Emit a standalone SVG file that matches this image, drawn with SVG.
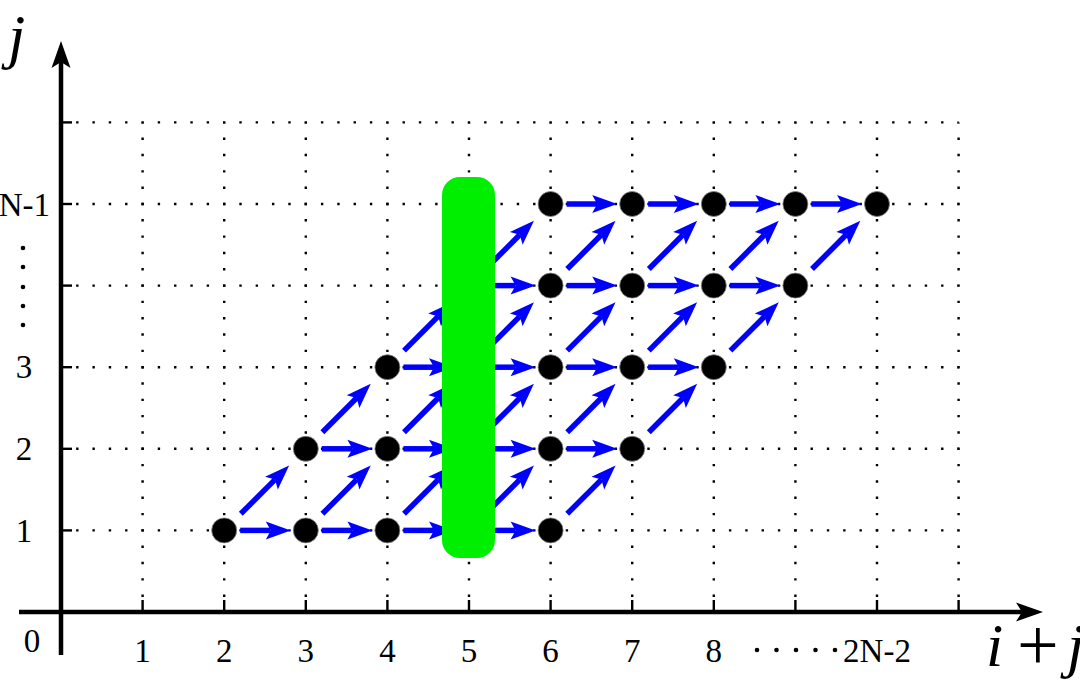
<svg xmlns="http://www.w3.org/2000/svg" width="1080" height="689" viewBox="0 0 1080 689">
<style>
.grid{stroke:#000;stroke-width:2.4;stroke-dasharray:2.4 13.92;stroke-dashoffset:1.2;fill:none}
.axis{stroke:#000;stroke-width:4.5;fill:none}
.tick{stroke:#000;stroke-width:2.4}
.arr{stroke:#0000ff;stroke-width:5.5;marker-end:url(#ah)}
.node{fill:#000;stroke:#888;stroke-width:0.8}
.lbl{font-family:"Liberation Serif","DejaVu Serif",serif;font-size:33px;fill:#000}
.var{font-family:"Liberation Serif","DejaVu Serif",serif;font-style:italic;font-size:62px;fill:#000}
.op{font-family:"Liberation Serif","DejaVu Serif",serif;font-size:74px;fill:#000}
</style>
<defs>
<marker id="ah" markerUnits="userSpaceOnUse" markerWidth="30" markerHeight="22" viewBox="-6 -11 30 22" refX="0" refY="0" orient="auto" overflow="visible">
<path d="M-5,-9 L20,0 L-5,9 L0,0 Z" fill="#0000ff"/>
</marker>
</defs>
<g id="grid">
<line class="grid" x1="61" y1="530.4" x2="958.6" y2="530.4"/>
<line class="grid" x1="61" y1="448.8" x2="958.6" y2="448.8"/>
<line class="grid" x1="61" y1="367.2" x2="958.6" y2="367.2"/>
<line class="grid" x1="61" y1="285.6" x2="958.6" y2="285.6"/>
<line class="grid" x1="61" y1="204" x2="958.6" y2="204"/>
<line class="grid" x1="61" y1="122.4" x2="958.6" y2="122.4"/>
<line class="grid" x1="142.6" y1="612" x2="142.6" y2="122.4"/>
<line class="grid" x1="224.2" y1="612" x2="224.2" y2="122.4"/>
<line class="grid" x1="305.8" y1="612" x2="305.8" y2="122.4"/>
<line class="grid" x1="387.4" y1="612" x2="387.4" y2="122.4"/>
<line class="grid" x1="469" y1="612" x2="469" y2="122.4"/>
<line class="grid" x1="550.6" y1="612" x2="550.6" y2="122.4"/>
<line class="grid" x1="632.2" y1="612" x2="632.2" y2="122.4"/>
<line class="grid" x1="713.8" y1="612" x2="713.8" y2="122.4"/>
<line class="grid" x1="795.4" y1="612" x2="795.4" y2="122.4"/>
<line class="grid" x1="877" y1="612" x2="877" y2="122.4"/>
<line class="grid" x1="958.6" y1="612" x2="958.6" y2="122.4"/>
</g>
<g id="ticks">
<line class="tick" x1="61" y1="530.4" x2="72" y2="530.4"/>
<line class="tick" x1="61" y1="448.8" x2="72" y2="448.8"/>
<line class="tick" x1="61" y1="367.2" x2="72" y2="367.2"/>
<line class="tick" x1="61" y1="285.6" x2="72" y2="285.6"/>
<line class="tick" x1="61" y1="204" x2="72" y2="204"/>
<line class="tick" x1="61" y1="122.4" x2="72" y2="122.4"/>
<line class="tick" x1="142.6" y1="612" x2="142.6" y2="600"/>
<line class="tick" x1="224.2" y1="612" x2="224.2" y2="600"/>
<line class="tick" x1="305.8" y1="612" x2="305.8" y2="600"/>
<line class="tick" x1="387.4" y1="612" x2="387.4" y2="600"/>
<line class="tick" x1="469" y1="612" x2="469" y2="600"/>
<line class="tick" x1="550.6" y1="612" x2="550.6" y2="600"/>
<line class="tick" x1="632.2" y1="612" x2="632.2" y2="600"/>
<line class="tick" x1="713.8" y1="612" x2="713.8" y2="600"/>
<line class="tick" x1="795.4" y1="612" x2="795.4" y2="600"/>
<line class="tick" x1="877" y1="612" x2="877" y2="600"/>
<line class="tick" x1="958.6" y1="612" x2="958.6" y2="600"/>
</g>
<g id="axes">
<line class="axis" x1="61" y1="655" x2="61" y2="62"/>
<polygon points="61,41 51.5,68 61,62 70.5,68" fill="#000"/>
<line class="axis" x1="19" y1="612" x2="1022" y2="612"/>
<polygon points="1043,612 1016,602.5 1022,612 1016,621.5" fill="#000"/>
</g>
<g id="connectors">
<line class="arr" x1="240.2" y1="530.4" x2="270.8" y2="530.4"/>
<line class="arr" x1="321.8" y1="530.4" x2="352.4" y2="530.4"/>
<line class="arr" x1="403.4" y1="530.4" x2="434" y2="530.4"/>
<line class="arr" x1="485" y1="530.4" x2="515.6" y2="530.4"/>
<line class="arr" x1="321.8" y1="448.8" x2="352.4" y2="448.8"/>
<line class="arr" x1="403.4" y1="448.8" x2="434" y2="448.8"/>
<line class="arr" x1="485" y1="448.8" x2="515.6" y2="448.8"/>
<line class="arr" x1="566.6" y1="448.8" x2="597.2" y2="448.8"/>
<line class="arr" x1="403.4" y1="367.2" x2="434" y2="367.2"/>
<line class="arr" x1="485" y1="367.2" x2="515.6" y2="367.2"/>
<line class="arr" x1="566.6" y1="367.2" x2="597.2" y2="367.2"/>
<line class="arr" x1="648.2" y1="367.2" x2="678.8" y2="367.2"/>
<line class="arr" x1="485" y1="285.6" x2="515.6" y2="285.6"/>
<line class="arr" x1="566.6" y1="285.6" x2="597.2" y2="285.6"/>
<line class="arr" x1="648.2" y1="285.6" x2="678.8" y2="285.6"/>
<line class="arr" x1="729.8" y1="285.6" x2="760.4" y2="285.6"/>
<line class="arr" x1="566.6" y1="204" x2="597.2" y2="204"/>
<line class="arr" x1="648.2" y1="204" x2="678.8" y2="204"/>
<line class="arr" x1="729.8" y1="204" x2="760.4" y2="204"/>
<line class="arr" x1="811.4" y1="204" x2="842" y2="204"/>
<line class="arr" x1="240.8" y1="513.8" x2="275" y2="479.6"/>
<line class="arr" x1="322.4" y1="513.8" x2="356.6" y2="479.6"/>
<line class="arr" x1="404" y1="513.8" x2="438.2" y2="479.6"/>
<line class="arr" x1="485.6" y1="513.8" x2="519.8" y2="479.6"/>
<line class="arr" x1="567.2" y1="513.8" x2="601.4" y2="479.6"/>
<line class="arr" x1="322.4" y1="432.2" x2="356.6" y2="398"/>
<line class="arr" x1="404" y1="432.2" x2="438.2" y2="398"/>
<line class="arr" x1="485.6" y1="432.2" x2="519.8" y2="398"/>
<line class="arr" x1="567.2" y1="432.2" x2="601.4" y2="398"/>
<line class="arr" x1="648.8" y1="432.2" x2="683" y2="398"/>
<line class="arr" x1="404" y1="350.6" x2="438.2" y2="316.4"/>
<line class="arr" x1="485.6" y1="350.6" x2="519.8" y2="316.4"/>
<line class="arr" x1="567.2" y1="350.6" x2="601.4" y2="316.4"/>
<line class="arr" x1="648.8" y1="350.6" x2="683" y2="316.4"/>
<line class="arr" x1="730.4" y1="350.6" x2="764.6" y2="316.4"/>
<line class="arr" x1="485.6" y1="269" x2="519.8" y2="234.8"/>
<line class="arr" x1="567.2" y1="269" x2="601.4" y2="234.8"/>
<line class="arr" x1="648.8" y1="269" x2="683" y2="234.8"/>
<line class="arr" x1="730.4" y1="269" x2="764.6" y2="234.8"/>
<line class="arr" x1="812" y1="269" x2="846.2" y2="234.8"/>
</g>
<g id="nodes">
<circle id="n2-1" class="node" cx="224.2" cy="530.4" r="12.5"/>
<circle id="n3-1" class="node" cx="305.8" cy="530.4" r="12.5"/>
<circle id="n4-1" class="node" cx="387.4" cy="530.4" r="12.5"/>
<circle id="n5-1" class="node" cx="469" cy="530.4" r="12.5"/>
<circle id="n6-1" class="node" cx="550.6" cy="530.4" r="12.5"/>
<circle id="n3-2" class="node" cx="305.8" cy="448.8" r="12.5"/>
<circle id="n4-2" class="node" cx="387.4" cy="448.8" r="12.5"/>
<circle id="n5-2" class="node" cx="469" cy="448.8" r="12.5"/>
<circle id="n6-2" class="node" cx="550.6" cy="448.8" r="12.5"/>
<circle id="n7-2" class="node" cx="632.2" cy="448.8" r="12.5"/>
<circle id="n4-3" class="node" cx="387.4" cy="367.2" r="12.5"/>
<circle id="n5-3" class="node" cx="469" cy="367.2" r="12.5"/>
<circle id="n6-3" class="node" cx="550.6" cy="367.2" r="12.5"/>
<circle id="n7-3" class="node" cx="632.2" cy="367.2" r="12.5"/>
<circle id="n8-3" class="node" cx="713.8" cy="367.2" r="12.5"/>
<circle id="n5-4" class="node" cx="469" cy="285.6" r="12.5"/>
<circle id="n6-4" class="node" cx="550.6" cy="285.6" r="12.5"/>
<circle id="n7-4" class="node" cx="632.2" cy="285.6" r="12.5"/>
<circle id="n8-4" class="node" cx="713.8" cy="285.6" r="12.5"/>
<circle id="n9-4" class="node" cx="795.4" cy="285.6" r="12.5"/>
<circle id="n6-5" class="node" cx="550.6" cy="204" r="12.5"/>
<circle id="n7-5" class="node" cx="632.2" cy="204" r="12.5"/>
<circle id="n8-5" class="node" cx="713.8" cy="204" r="12.5"/>
<circle id="n9-5" class="node" cx="795.4" cy="204" r="12.5"/>
<circle id="n10-5" class="node" cx="877" cy="204" r="12.5"/>
</g>
<g id="bar">
<rect x="442" y="177" width="53" height="381" rx="18" ry="18" fill="#00ee00"/>
</g>
<g id="labels">
<text class="var" x="8" y="57">j</text>
<text class="var" x="986" y="666">i</text>
<text class="op" x="1017" y="670">+</text>
<text class="var" x="1067" y="666">j</text>
<text class="lbl" x="32" y="652" text-anchor="middle">0</text>
<text class="lbl" x="142.6" y="662" text-anchor="middle">1</text>
<text class="lbl" x="224.2" y="662" text-anchor="middle">2</text>
<text class="lbl" x="305.8" y="662" text-anchor="middle">3</text>
<text class="lbl" x="387.4" y="662" text-anchor="middle">4</text>
<text class="lbl" x="469" y="662" text-anchor="middle">5</text>
<text class="lbl" x="550.6" y="662" text-anchor="middle">6</text>
<text class="lbl" x="632.2" y="662" text-anchor="middle">7</text>
<text class="lbl" x="713.8" y="662" text-anchor="middle">8</text>
<text class="lbl" x="877" y="662" text-anchor="middle">2N-2</text>
<text class="lbl" x="24" y="542" text-anchor="middle">1</text>
<text class="lbl" x="24" y="460" text-anchor="middle">2</text>
<text class="lbl" x="24" y="378" text-anchor="middle">3</text>
<text class="lbl" x="50" y="216" text-anchor="end">N-1</text>
</g>
<g id="ellipses" fill="#000">
<circle cx="23" cy="248" r="2.3"/>
<circle cx="23" cy="267" r="2.3"/>
<circle cx="23" cy="287" r="2.3"/>
<circle cx="23" cy="306" r="2.3"/>
<circle cx="23" cy="325" r="2.3"/>
<circle cx="757" cy="650" r="2.3"/>
<circle cx="776.5" cy="650" r="2.3"/>
<circle cx="796" cy="650" r="2.3"/>
<circle cx="815.5" cy="650" r="2.3"/>
<circle cx="835" cy="650" r="2.3"/>
</g>
</svg>
